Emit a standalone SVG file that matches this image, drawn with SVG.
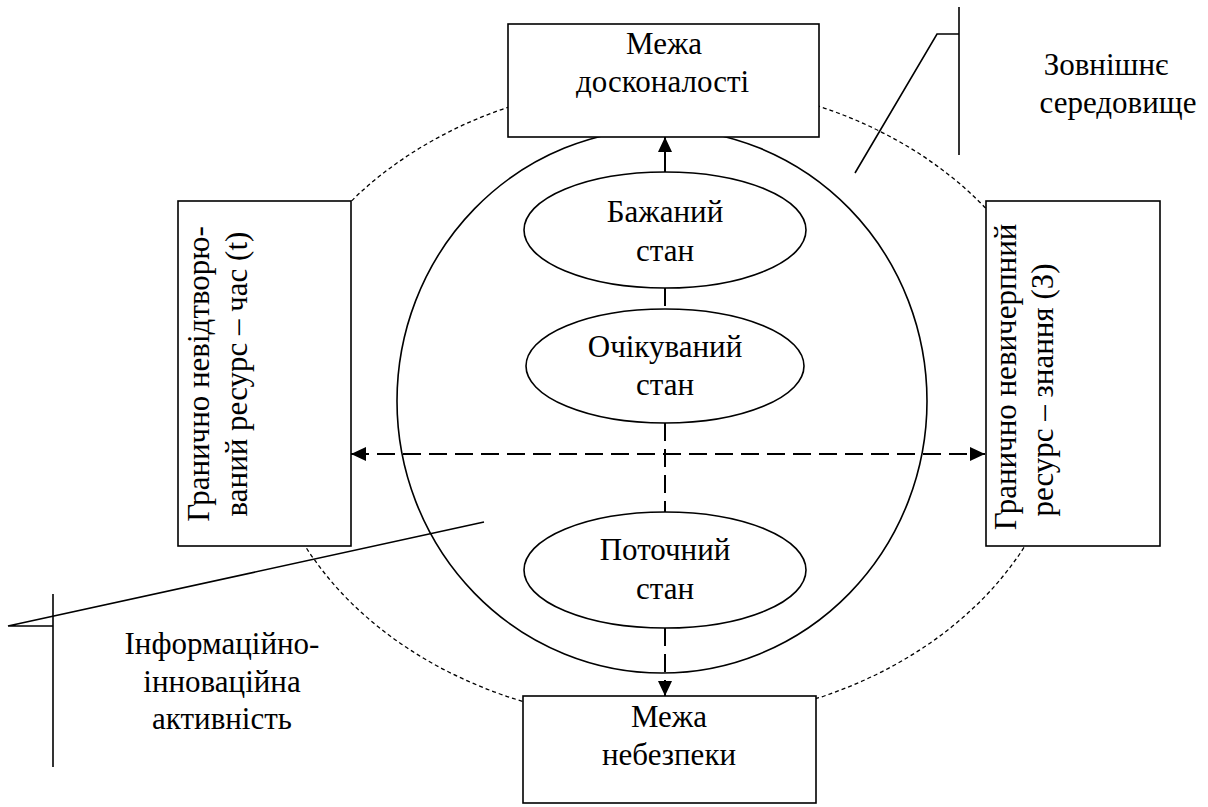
<svg xmlns="http://www.w3.org/2000/svg" width="1208" height="807" viewBox="0 0 1208 807">
<defs>
<marker id="ah" viewBox="0 0 15 14" refX="15" refY="7" markerWidth="15" markerHeight="14" markerUnits="userSpaceOnUse" orient="auto-start-reverse">
<path d="M0,0 L15,7 L0,14 z" fill="#000"/>
</marker>
</defs>
<rect width="1208" height="807" fill="#fff"/>
<ellipse cx="665" cy="402" rx="403" ry="320" fill="none" stroke="#000" stroke-width="1.3" stroke-dasharray="4 3"/>
<g id="callouts" fill="none" stroke="#000" stroke-width="1.6">
<polyline points="484,522 8,626 53,626"/>
<line x1="53" y1="594" x2="53" y2="767"/>
<polyline points="855,173 937,34 959,34"/>
<line x1="959" y1="7" x2="959" y2="155"/>
</g>
<ellipse cx="662" cy="401" rx="265" ry="272" fill="none" stroke="#000" stroke-width="1.6"/>
<g id="connectors" fill="none" stroke="#000" stroke-width="2">
<line x1="665" y1="172" x2="665" y2="137" marker-end="url(#ah)"/>
<g stroke-dasharray="18 8">
<line x1="665" y1="288" x2="665" y2="310"/>
<line x1="665" y1="423" x2="665" y2="512"/>
<line x1="665" y1="628" x2="665" y2="696" marker-end="url(#ah)"/>
<line x1="351" y1="454" x2="985" y2="454" marker-start="url(#ah)" marker-end="url(#ah)"/>
</g>
</g>
<g id="top-box">
<rect x="508" y="24" width="311" height="113" fill="#fff" stroke="#000" stroke-width="1.6"/>
<text font-family="Liberation Serif" font-size="31" x="626" y="54">Межа</text>
<text font-family="Liberation Serif" font-size="31" x="576" y="92">досконалості</text>
</g>
<g id="bottom-box">
<rect x="523" y="696" width="293" height="107" fill="#fff" stroke="#000" stroke-width="1.6"/>
<text font-family="Times New Roman" font-size="31" text-anchor="middle" x="669" y="727">Межа</text>
<text font-family="Times New Roman" font-size="31" text-anchor="middle" x="669" y="765">небезпеки</text>
</g>
<g id="left-box">
<rect x="178" y="201" width="173" height="345" fill="#fff" stroke="#000" stroke-width="1.6"/>
<text font-family="Liberation Serif" font-size="31" text-anchor="middle" transform="translate(209,374) rotate(-90)">Гранично невідтворю-</text>
<text font-family="Liberation Serif" font-size="31" text-anchor="middle" transform="translate(247,374) rotate(-90)">ваний ресурс – час (t)</text>
</g>
<g id="right-box">
<rect x="986" y="201" width="174" height="345" fill="#fff" stroke="#000" stroke-width="1.6"/>
<text font-family="serif" font-size="31" text-anchor="middle" transform="translate(1016,377) rotate(-90)">Гранично невичерпний</text>
<text font-family="serif" font-size="31" text-anchor="middle" transform="translate(1053,390) rotate(-90)">ресурс – знання (З)</text>
</g>
<g id="desired">
<ellipse cx="665" cy="230" rx="141" ry="58" fill="#fff" stroke="#000" stroke-width="1.6"/>
<text font-family="Tinos" font-size="31" text-anchor="middle" x="665" y="222">Бажаний</text>
<text font-family="Tinos" font-size="31" text-anchor="middle" x="665" y="261">стан</text>
</g>
<g id="expected">
<ellipse cx="665" cy="366" rx="139" ry="57" fill="#fff" stroke="#000" stroke-width="1.6"/>
<text font-family="Liberation Serif" font-size="31" text-anchor="middle" x="665" y="357">Очікуваний</text>
<text font-family="Liberation Serif" font-size="31" text-anchor="middle" x="665" y="395">стан</text>
</g>
<g id="current">
<ellipse cx="665" cy="570" rx="141" ry="58" fill="#fff" stroke="#000" stroke-width="1.6"/>
<text font-family="Liberation Serif" font-size="31" text-anchor="middle" x="665" y="560">Поточний</text>
<text font-family="Liberation Serif" font-size="31" text-anchor="middle" x="665" y="599">стан</text>
</g>
<g id="environment">
<text font-family="Liberation Serif" font-size="31" text-anchor="middle" x="1106" y="75">Зовнішнє</text>
<text font-family="Liberation Serif" font-size="31" text-anchor="middle" x="1118" y="113">середовище</text>
</g>
<g id="activity">
<text font-family="Liberation Serif" font-size="31" text-anchor="middle" x="222" y="654">Інформаційно-</text>
<text font-family="Liberation Serif" font-size="31" text-anchor="middle" x="222" y="692">інноваційна</text>
<text font-family="Liberation Serif" font-size="31" text-anchor="middle" x="222" y="729">активність</text>
</g>
</svg>
